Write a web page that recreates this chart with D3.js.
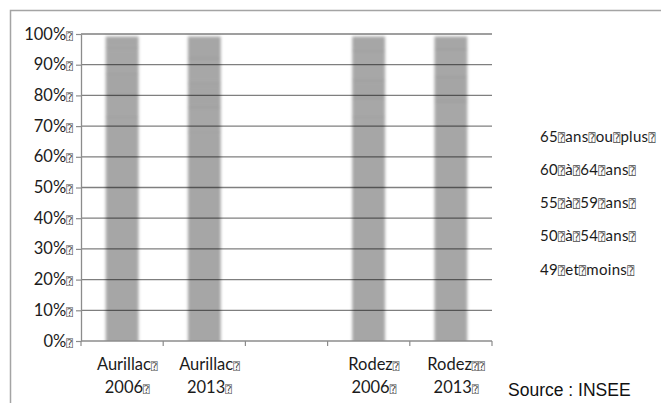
<!DOCTYPE html>
<html>
<head>
<meta charset="utf-8">
<script src="https://cdn.jsdelivr.net/npm/d3@7"></script>
<style>
  html, body { margin: 0; padding: 0; background: #fff; overflow: hidden; }
  svg { display: block; }
  .lbl { font-family: Lato, "Noto Sans", sans-serif; fill: #1b1b1b; }
  .q { font-family: "DejaVu Sans Mono", "DejaVu Sans", monospace; fill: #4a4a4a; }
</style>
</head>
<body>
<svg id="chart" width="661" height="403"></svg>
<script>
// Glyph shown in place of the unsupported characters of the original labels
const Q = "\u2370";

// Categories (one empty slot between the two towns)
const categories = ["Aurillac 2006", "Aurillac 2013", "gap", "Rodez 2006", "Rodez 2013"];
const categoryLines = [
  ["Aurillac" + Q, "2006" + Q],
  ["Aurillac" + Q, "2013" + Q],
  ["", ""],
  ["Rodez" + Q, "2006" + Q],
  ["Rodez" + Q + Q, "2013" + Q]
];

// Age groups, bottom of the stack first
const ageGroups = ["49 et moins", "50 à 54 ans", "55 à 59 ans", "60 à 64 ans", "65 ans ou plus"];
const legendLabels = [
  "49" + Q + "et" + Q + "moins" + Q,
  "50" + Q + "à" + Q + "54" + Q + "ans" + Q,
  "55" + Q + "à" + Q + "59" + Q + "ans" + Q,
  "60" + Q + "à" + Q + "64" + Q + "ans" + Q,
  "65" + Q + "ans" + Q + "ou" + Q + "plus" + Q
];

// Shares (%) per age group, one value per category
const age49orLess = [73, 68, 0, 73, 70];
const age50to54   = [7, 8, 0, 6, 8];
const age55to59   = [7, 8, 0, 6, 8];
const age60to64   = [8.5, 8, 0, 9.5, 9];
const age65plus   = [4.5, 8, 0, 5.5, 5];

const yTicks = [0, 0.1, 0.2, 0.3, 0.4, 0.5, 0.6, 0.7, 0.8, 0.9, 1];
const sourceText = "Source : INSEE";

// ---------------------------------------------------------------------------
const seriesArrays = [age49orLess, age50to54, age55to59, age60to64, age65plus];
const rows = categories.map((c, i) => {
  const r = { cat: c };
  ageGroups.forEach((g, k) => { r[g] = seriesArrays[k][i]; });
  return r;
});
const stacked = d3.stack().keys(ageGroups).offset(d3.stackOffsetExpand)(rows);

const svg = d3.select("#chart");
const x = d3.scaleBand().domain(categories).range([81, 492]).padding(0);
const y = d3.scaleLinear().domain([0, 1]).range([341, 34]);
const bw = x.bandwidth();
const barW = bw * 0.46;
const soft = 3;

const defs = svg.append("defs");
const f = defs.append("filter").attr("id", "softEdge")
  .attr("x", "-20%").attr("y", "-5%").attr("width", "140%").attr("height", "110%");
f.append("feMorphology").attr("in", "SourceAlpha").attr("operator", "erode")
  .attr("radius", soft).attr("result", "shrunk");
f.append("feComposite").attr("in", "SourceGraphic").attr("in2", "shrunk")
  .attr("operator", "in").attr("result", "cut");
f.append("feGaussianBlur").attr("in", "cut").attr("stdDeviation", 1.6);

defs.append("clipPath").attr("id", "plotClip")
  .append("rect").attr("x", x.range()[0]).attr("y", 0)
  .attr("width", x.range()[1] - x.range()[0]).attr("height", y(0));

// Outer frame
svg.append("rect")
  .attr("x", 10.5).attr("y", 10.5).attr("width", 720).attr("height", 460)
  .attr("fill", "none").attr("stroke", "#a4a4a4").attr("stroke-width", 1.5);

// Stacked bars
const shade = d3.scaleOrdinal().domain(ageGroups)
  .range(["#a6a6a6", "#a7a7a7", "#a5a5a5", "#a7a7a7", "#a6a6a6"]);

const barLayer = svg.append("g").attr("clip-path", "url(#plotClip)")
  .append("g").attr("filter", "url(#softEdge)");

stacked.forEach(layer => {
  barLayer.selectAll(null)
    .data(layer.filter(d => d[1] > d[0]))
    .enter().append("rect")
    .attr("x", d => x(d.data.cat) + bw / 2 - barW / 2)
    .attr("width", barW)
    .attr("y", d => y(d[1]))
    .attr("height", d => y(d[0]) - y(d[1]) + (d[0] === 0 ? soft + 3 : 0))
    .attr("fill", shade(layer.key))
    .attr("stroke", "#9b9b9b")
    .attr("stroke-width", 1);
});

// Gridlines
svg.append("g")
  .selectAll("line")
  .data(yTicks.filter(t => t > 0))
  .enter().append("line")
  .attr("x1", x.range()[0]).attr("x2", x.range()[1])
  .attr("y1", d => y(d)).attr("y2", d => y(d))
  .attr("stroke", "#000").attr("stroke-opacity", 0.5).attr("stroke-width", 1.3);

// Y axis
const yAxis = svg.append("g")
  .attr("transform", `translate(${x.range()[0]},0)`)
  .call(d3.axisLeft(y).tickValues(yTicks).tickSize(5).tickSizeOuter(0).tickFormat(() => ""));
yAxis.select(".domain").attr("stroke", "#8c8c8c").attr("stroke-width", 1.3);
yAxis.selectAll(".tick line").attr("stroke", "#8c8c8c").attr("stroke-width", 1.2);

function richText(sel, str, boxSize) {
  const parts = str.split(Q);
  parts.forEach((p, i) => {
    if (p) sel.append("tspan").text(p);
    if (i < parts.length - 1) {
      sel.append("tspan").attr("class", "q").attr("font-size", boxSize).text(Q);
    }
  });
}

const pct = d3.format(".0%");
yTicks.forEach(t => {
  const tx = svg.append("text").attr("class", "lbl")
    .attr("x", 72.5).attr("y", y(t) + 5.5)
    .attr("text-anchor", "end").attr("font-size", 16.5);
  richText(tx, pct(t) + Q, 10.5);
});

// X axis
svg.append("line")
  .attr("x1", x.range()[0]).attr("x2", x.range()[1])
  .attr("y1", y(0)).attr("y2", y(0))
  .attr("stroke", "#8c8c8c").attr("stroke-width", 1.3);
svg.append("g").selectAll("line")
  .data(categories.map(c => x(c)).concat([x.range()[1]]))
  .enter().append("line")
  .attr("x1", d => d).attr("x2", d => d)
  .attr("y1", y(0)).attr("y2", y(0) + 5)
  .attr("stroke", "#8c8c8c").attr("stroke-width", 1.2);

categories.forEach((c, i) => {
  categoryLines[i].forEach((line, k) => {
    if (!line) return;
    const tx = svg.append("text").attr("class", "lbl")
      .attr("x", x(c) + bw / 2 + 5).attr("y", 370 + k * 22.5)
      .attr("text-anchor", "middle").attr("font-size", 16.5);
    richText(tx, line, 10.5);
  });
});

// Legend (labels only)
ageGroups.forEach((g, i) => {
  const row = ageGroups.length - 1 - i;
  const tx = svg.append("text").attr("class", "lbl")
    .attr("x", 540).attr("y", 141.5 + row * 33.3)
    .attr("font-size", 15)
    .attr("letter-spacing", 0.3);
  richText(tx, legendLabels[i], 11.5);
});

// Source note
svg.append("text")
  .attr("x", 508).attr("y", 396)
  .attr("font-family", "'Liberation Sans', Arial, sans-serif")
  .attr("font-size", 17.5).attr("fill", "#111")
  .text(sourceText);
</script>
</body>
</html>
